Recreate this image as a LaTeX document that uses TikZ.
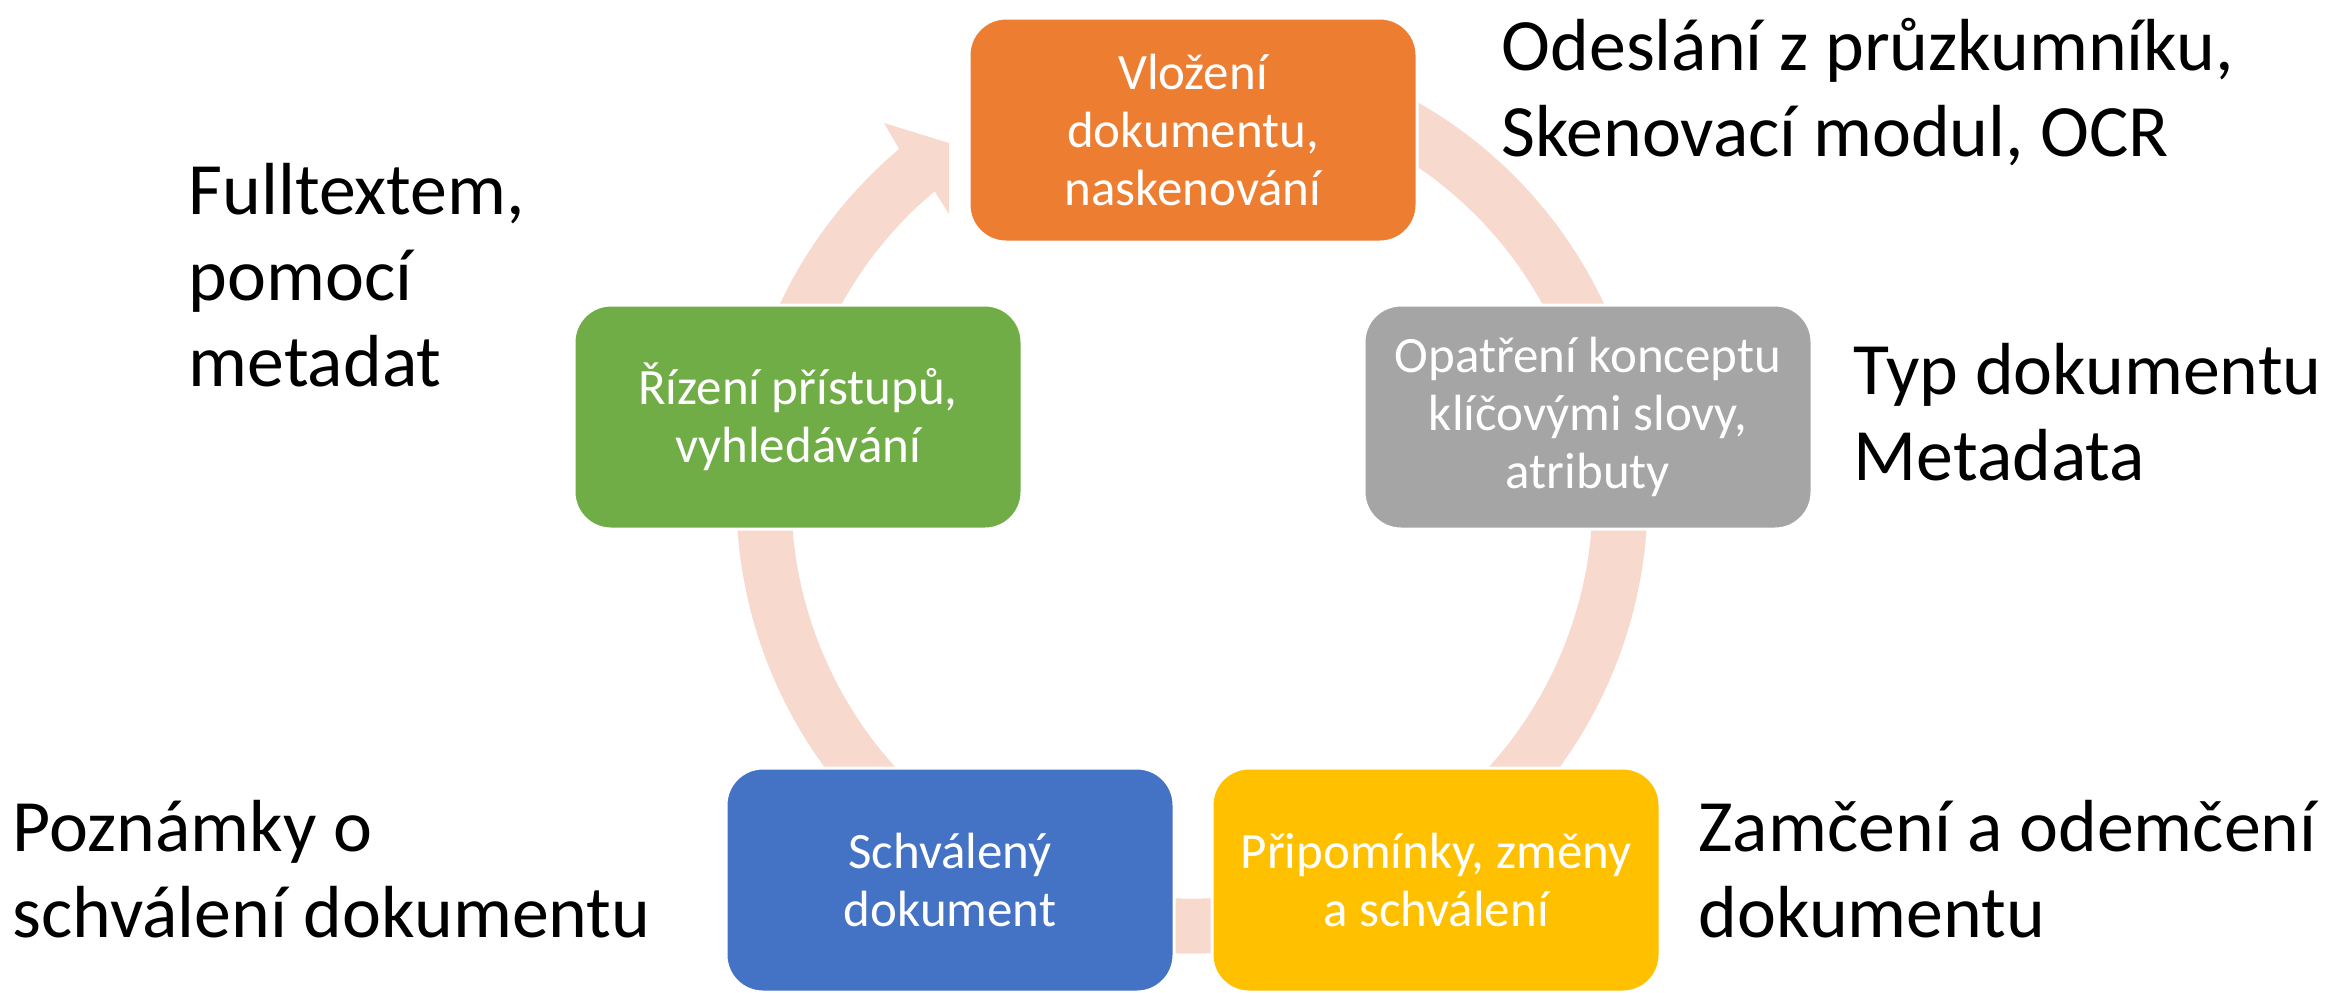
\documentclass[tikz,border=0pt]{standalone}
\usepackage{fontspec}
\setmainfont{Carlito}
\definecolor{accorange}{HTML}{ED7D31}
\definecolor{accgray}{HTML}{A5A5A5}
\definecolor{accyellow}{HTML}{FFC000}
\definecolor{accblue}{HTML}{4472C4}
\definecolor{accgreen}{HTML}{70AD47}
\definecolor{ringpink}{HTML}{F8D9CE}
\begin{document}
\begin{tikzpicture}
  \tikzstyle{stage}=[rounded corners=0.37cm,draw=white,line width=0.03cm,minimum width=4.48cm,minimum height=2.24cm,text=white,align=center,font=\fontsize{14.5}{16.5}\selectfont]
  \tikzstyle{note}=[anchor=west,align=left,inner sep=0pt,font=\fontsize{21}{24.5}\selectfont]
  \useasboundingbox (0,0) rectangle (23.35,-9.92);

  \coordinate (ring) at (11.92,-4.98);
  \draw[ringpink,line width=0.55cm] ([shift={(70:4.28)}]ring) arc[start angle=70,end angle=-230,radius=4.28];
  \fill[ringpink] ([shift={(133:4.555)}]ring) -- ([shift={(130:4.555)}]ring) -- (8.84,-1.23) -- (9.49,-1.43)
    -- (9.49,-2.14) -- ([shift={(130:4.005)}]ring) -- ([shift={(133:4.005)}]ring) -- cycle;

  \node[stage,fill=accorange] (vlozeni) at (11.93,-1.30) {Vložení\\dokumentu,\\naskenování};
  \node[stage,fill=accgray] (opatreni) at (15.88,-4.17) {Opatření konceptu\\klíčovými slovy,\\atributy};
  \node[stage,fill=accyellow] (pripominky) at (14.36,-8.80) {Připomínky, změny\\a schválení};
  \node[stage,fill=accblue] (schvaleny) at (9.50,-8.80) {Schválený\\dokument};
  \node[stage,fill=accgreen] (rizeni) at (7.98,-4.17) {Řízení přístupů,\\vyhledávání};

  \node[note] (odeslani) at (15.01,-0.92) {Odeslání z průzkumníku,\\Skenovací modul, OCR};
  \node[note] (fulltext) at (1.88,-2.75) {Fulltextem,\\pomocí\\metadat};
  \node[note] (typ) at (18.53,-4.12) {Typ dokumentu\\Metadata};
  \node[note] (poznamky) at (0.12,-8.69) {Poznámky o\\schválení dokumentu};
  \node[note] (zamceni) at (16.98,-8.69) {Zamčení a odemčení\\dokumentu};
\end{tikzpicture}
\end{document}
